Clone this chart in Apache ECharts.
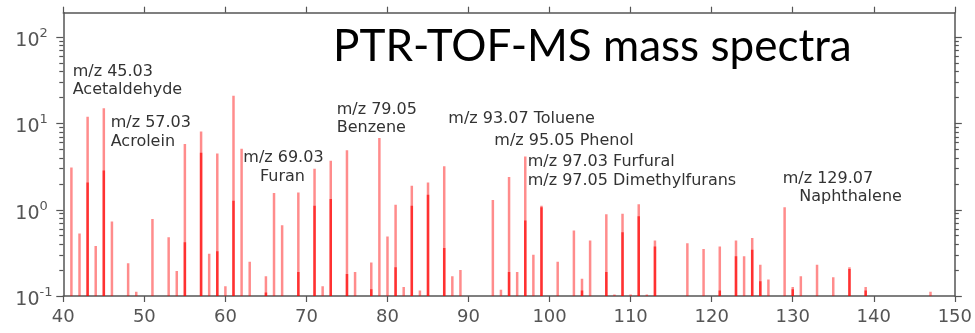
<!DOCTYPE html>
<html>
<head>
<meta charset="utf-8">
<script src="https://cdn.jsdelivr.net/npm/echarts@6/dist/echarts.min.js"></script>
<style>
  html, body { margin: 0; padding: 0; background: #fff; }
  #chart { width: 975px; height: 333px; }
</style>
</head>
<body>
<div id="chart"></div>
<script>
// ---- data ----
const masses = [41, 42, 43, 44, 45, 46, 48, 49, 51, 53, 54, 55, 57, 58, 59, 60, 61, 62, 63, 65, 66, 67, 69, 71, 72, 73, 75, 76, 78, 79, 80, 81, 82, 83, 84, 85, 87, 88, 89, 93, 94, 95, 96, 97, 98, 99, 101, 103, 104, 105, 107, 108, 109, 110, 111, 112, 113, 117, 119, 121, 123, 124, 125, 126, 127, 129, 130, 131, 133, 135, 137, 139, 147];
const intensityA = [3.1, 0.53, 12, 0.38, 15, 0.73, 0.24, 0.112, 0.78, 0.48, 0.195, 5.8, 8.1, 0.31, 4.5, 0.13, 21, 5.1, 0.25, 0.17, 1.56, 0.66, 1.59, 3.0, 0.13, 3.7, 4.9, 0.19, 0.245, 6.8, 0.49, 1.14, 0.127, 1.9, 0.116, 2.07, 3.2, 0.17, 0.2, 1.3, 0.118, 2.4, 0.19, 4.15, 0.3, 1.11, 0.25, 0.575, 0.158, 0.44, 0.89, 0.104, 0.9, 0.104, 1.16, 0.104, 0.44, 0.41, 0.35, 0.375, 0.44, 0.29, 0.47, 0.23, 0.155, 1.07, 0.127, 0.17, 0.23, 0.165, 0.215, 0.127, 0.112];
const intensityB = [null, null, 2.07, null, 2.85, null, null, null, null, null, null, 0.42, 4.6, null, 0.33, null, 1.27, null, null, 0.11, null, null, 0.19, 1.11, null, 1.33, 0.18, null, 0.12, null, null, 0.215, null, 1.11, null, 1.49, 0.36, null, null, null, null, 0.19, null, 0.75, null, 1.07, null, null, 0.116, null, 0.19, null, 0.55, null, 0.84, null, 0.375, null, null, 0.116, 0.29, null, 0.345, 0.148, null, null, 0.12, null, null, null, 0.205, 0.116, null];
const xTicks = [40, 50, 60, 70, 80, 90, 100, 110, 120, 130, 140, 150];
const yMajorTicks = [0.1, 1, 10, 100];
const yMinorTicks = [0.2, 0.3, 0.4, 0.5, 0.6, 0.7, 0.8, 0.9, 2, 3, 4, 5, 6, 7, 8, 9, 20, 30, 40, 50, 60, 70, 80, 90];
const titleText = 'PTR-TOF-MS mass spectra';
const annotations = [
  ['m/z 45.03', 72.7, 72.3], ['Acetaldehyde', 72.7, 90.0],
  ['m/z 57.03', 110.7, 123.3], ['Acrolein', 110.7, 141.7],
  ['m/z 69.03', 243.3, 158.3], ['Furan', 260, 176.7],
  ['m/z 79.05', 336.7, 110.0], ['Benzene', 336.7, 128.3],
  ['m/z 93.07 Toluene', 448.3, 119.0],
  ['m/z 95.05 Phenol', 494.3, 141.0],
  ['m/z 97.03 Furfural', 527.7, 161.7],
  ['m/z 97.05 Dimethylfurans', 527.7, 180.7],
  ['m/z 129.07', 782.7, 179.0], ['Naphthalene', 799.3, 197.3]
];

const Y_MIN = 0.1, Y_MAX = 193;
const AXIS_COLOR = '#555';
const FONT = 'DejaVu Sans';

function barSeries(values, color, width, z) {
  const data = [];
  masses.forEach((m, i) => { if (values[i] != null) data.push([m, values[i]]); });
  return {
    type: 'custom',
    xAxisIndex: 0, yAxisIndex: 0,
    z: z,
    clip: true,
    data: data,
    renderItem: function (params, api) {
      const x = api.value(0), v = api.value(1);
      const top = api.coord([x, v]);
      const base = api.coord([x, Y_MIN]);
      return {
        type: 'rect',
        shape: { x: top[0] - width / 2, y: top[1], width: width, height: base[1] - top[1] },
        style: { fill: color }
      };
    }
  };
}

function xAxisDef(pos, showLabel) {
  return {
    type: 'value', position: pos, min: 40, max: 150, interval: 10,
    axisLine: { show: true, onZero: false, lineStyle: { color: AXIS_COLOR, width: 1.5 } },
    axisTick: { show: true, inside: false, length: 6, lineStyle: { color: AXIS_COLOR, width: 1.2 }, customValues: xTicks },
    axisLabel: { show: showLabel, customValues: xTicks, fontSize: 18, color: '#555', fontFamily: FONT, margin: 12 },
    splitLine: { show: false }
  };
}

function yAxisDef(pos, ticks, len, showLine, showLabel) {
  return {
    type: 'log', logBase: 10, position: pos, min: Y_MIN, max: Y_MAX,
    axisLine: { show: showLine, onZero: false, lineStyle: { color: AXIS_COLOR, width: 1.5 } },
    axisTick: { show: true, inside: false, length: len, lineStyle: { color: AXIS_COLOR, width: 1.2 }, customValues: ticks },
    axisLabel: {
      show: showLabel, customValues: ticks, align: 'left', margin: 48,
      color: '#555', fontFamily: FONT,
      formatter: function (v) {
        const e = Math.round(Math.log10(v));
        return '{b|10}{s|' + e + '}';
      },
      rich: {
        b: { fontSize: 19, lineHeight: 20, padding: [8, 0, 0, 0], color: '#555', fontFamily: FONT },
        s: { fontSize: 13, lineHeight: 14, verticalAlign: 'top', color: '#555', fontFamily: FONT }
      }
    },
    splitLine: { show: false },
    minorTick: { show: false }
  };
}

const graphics = [{
  type: 'text', left: 333, top: 25,
  style: { text: titleText, font: '44px Lato', fill: '#000' }
}];
annotations.forEach(a => {
  graphics.push({
    type: 'text', x: a[1], y: a[2],
    style: { text: a[0], fontSize: 16, fontFamily: FONT, fill: '#333', verticalAlign: 'middle', align: 'left' }
  });
});

const chart = echarts.init(document.getElementById('chart'));
chart.setOption({
  animation: false,
  backgroundColor: '#fff',
  grid: { left: 63.3, right: 18.3, top: 12.7, bottom: 37 },
  xAxis: [xAxisDef('bottom', true), xAxisDef('top', false)],
  yAxis: [
    yAxisDef('left', yMajorTicks, 7, true, true),
    yAxisDef('left', yMinorTicks, 4, false, false),
    yAxisDef('right', yMajorTicks, 7, true, false),
    yAxisDef('right', yMinorTicks, 4, false, false)
  ],
  graphic: graphics,
  series: [
    barSeries(intensityA, 'rgba(255,0,0,0.45)', 2.5, 2),
    barSeries(intensityB, 'rgba(255,0,0,0.65)', 2.5, 3)
  ]
});
</script>
</body>
</html>
